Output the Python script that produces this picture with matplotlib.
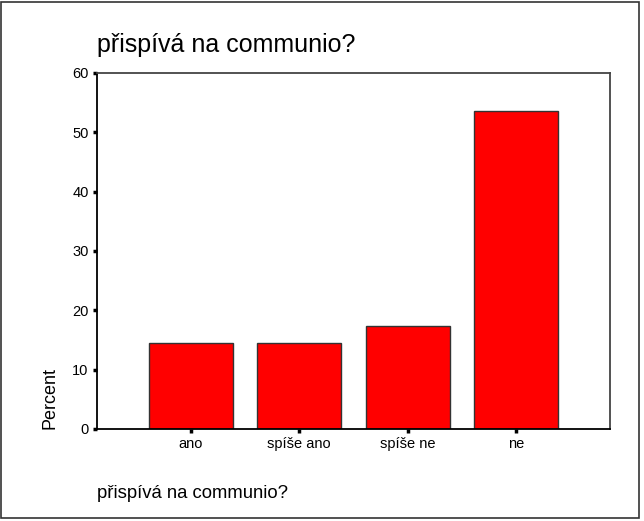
import matplotlib
matplotlib.use("Agg")
import matplotlib.pyplot as plt
import numpy as np

categories = ["ano", "spíše ano", "spíše ne", "ne"]
percent = [14.5, 14.5, 17.4, 53.6]
yticks = [0, 10, 20, 30, 40, 50, 60]
title = "přispívá na communio?"

plt.rcParams['font.family'] = ['Liberation Sans', 'DejaVu Sans']

fig = plt.figure(figsize=(6.44, 5.21), dpi=100)
ax = fig.add_axes([97/644, 1 - 429/521, 513/644, 356/521])

x = np.arange(len(categories))
ax.bar(x, percent, width=0.774, color='#ff0000', edgecolor='#333333', linewidth=1.0)

ax.set_xlim(-0.866, 3.866)
ax.set_ylim(0, 60)
ax.set_yticks(yticks)
ax.set_xticks(x)
ax.set_xticklabels(categories, fontsize=10.5)
ax.set_yticklabels([str(t) for t in yticks], fontsize=10.5)
ax.tick_params(axis='both', direction='out', length=3, width=2.5, color='black', pad=3)

for s in ['left', 'bottom']:
    ax.spines[s].set_color('black')
    ax.spines[s].set_linewidth(1.3)
for s in ['top', 'right']:
    ax.spines[s].set_color('#444444')
    ax.spines[s].set_linewidth(1.3)

fig.text(97/644, 1 - 45/521, title, fontsize=18, va='center', ha='left')
fig.text(97/644, 1 - 493/521, title, fontsize=13.3, va='center', ha='left')
fig.text(50/644, 1 - 398/521, "Percent", fontsize=13, rotation=90, va='center', ha='center')

# outer frame
fig.patches.append(plt.Rectangle((1/644, 3/521), 638/644, 516/521, transform=fig.transFigure,
                                 fill=False, edgecolor='#333333', linewidth=1.2))

fig.savefig("out.png", dpi=100)
